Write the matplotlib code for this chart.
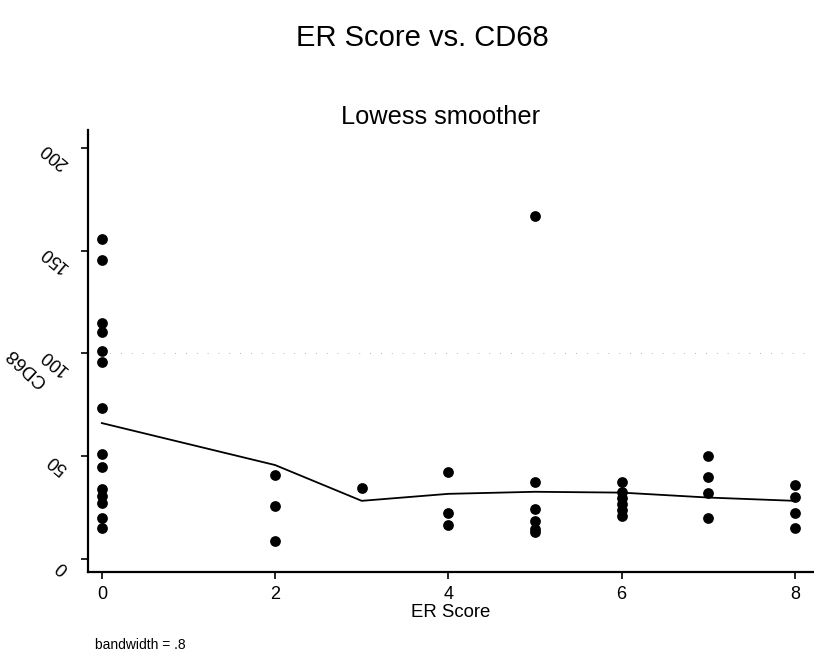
import matplotlib
matplotlib.use("Agg")
import matplotlib.pyplot as plt
from matplotlib.transforms import ScaledTranslation

plt.rcParams['font.family'] = ['Liberation Sans', 'DejaVu Sans']

# Scatter data (ER Score, CD68)
er_score = [0]*14 + [2]*3 + [3] + [4]*3 + [5]*6 + [6]*6 + [7]*4 + [8]*4
cd68 = [155.6, 145.5, 114.7, 110.3, 101.0, 96.0, 73.3, 51.0, 44.8, 34.0, 30.7, 27.3, 20.1, 15.2,
        40.8, 25.8, 8.8,
        34.4,
        42.3, 22.2, 16.4,
        166.7, 37.3, 24.2, 18.6, 14.8, 13.2,
        37.3, 32.5, 29.5, 27.0, 24.0, 21.0,
        50.2, 39.9, 32.3, 19.8,
        36.1, 30.0, 22.4, 15.1]

# Lowess smoother
lowess_x = [0, 2, 3, 4, 5, 6, 7, 8]
lowess_y = [66.1, 45.7, 28.3, 31.7, 32.7, 32.3, 29.9, 28.3]

x_ticks = [0, 2, 4, 6, 8]
y_ticks = [0, 50, 100, 150, 200]

fig = plt.figure(figsize=(8.14, 6.54), dpi=100)
ax = fig.add_axes([88/814, 82/654, (813-88)/814, 442/654])

ax.plot(lowess_x, lowess_y, color='black', lw=1.3, zorder=2)
ax.scatter(er_score, cd68, s=60, color='black', zorder=3, linewidths=0)
ax.axhline(100, color='#999999', lw=0.6, ls=(0, (1, 12)), zorder=1)

ax.set_xlim(-0.16, 8.21)
ax.set_ylim(-6.3, 208.6)
ax.set_xticks(x_ticks)
ax.set_yticks(y_ticks)
ax.set_yticklabels([str(v) for v in y_ticks], rotation=140, fontsize=13,
                   ha='right', va='center')
ax.tick_params(axis='y', pad=7, length=5, width=1.2, direction='out')
ax.tick_params(axis='x', labelsize=13, length=5, width=1.2, direction='out', pad=5)
shift = ScaledTranslation(0, -8/100, fig.dpi_scale_trans)
for lbl in ax.get_yticklabels():
    lbl.set_transform(lbl.get_transform() + shift)

for s in ['top', 'right']:
    ax.spines[s].set_visible(False)
ax.spines['left'].set_linewidth(1.6)
ax.spines['bottom'].set_linewidth(1.6)

ax.set_xlabel('ER Score', fontsize=13.4, labelpad=1)
fig.text(27/814, 1 - 367/654, 'CD68', rotation=137, fontsize=13.4, ha='center', va='center')
fig.text(422/814, 1 - 38/654, 'ER Score vs. CD68', fontsize=21, ha='center', va='center')
fig.text(441/814, 1 - 117/654, 'Lowess smoother', fontsize=18.3, ha='center', va='center')
fig.text(95/814, 1 - 645/654, 'bandwidth = .8', fontsize=10, ha='left', va='center')

fig.savefig('out.png', dpi=100)
